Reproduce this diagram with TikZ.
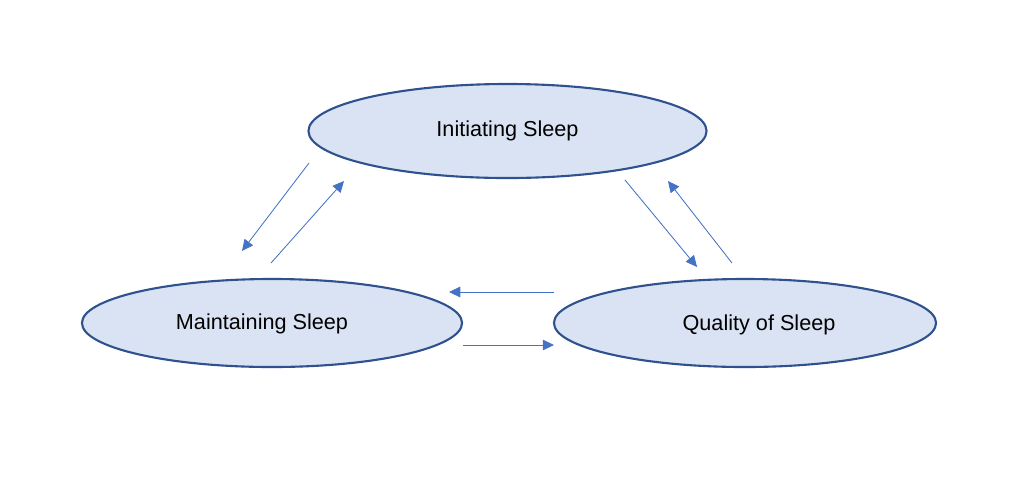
\documentclass[tikz,border=0pt]{standalone}
\usepackage{fontspec}
\setmainfont{Liberation Sans}
\usetikzlibrary{arrows.meta,shapes.geometric}
\definecolor{fillblue}{HTML}{DAE3F3}
\definecolor{edgeblue}{HTML}{2F528F}
\definecolor{arrowblue}{HTML}{4472C4}
\tikzstyle{phase} = [ellipse, draw=edgeblue, fill=fillblue, line width=1.5pt, inner sep=0pt, outer sep=0pt, font=\fontsize{15.4}{18}\selectfont]
\tikzstyle{link} = [draw=arrowblue, line width=0.6pt, -{Triangle[length=8pt,width=7.5pt]}]

\begin{document}
\begin{tikzpicture}[x=0.025cm, y=-0.025cm]
	  \useasboundingbox (0,0) rectangle (1024,476);

	  \node (init) at (507.5,131) [phase, minimum width=9.95cm, minimum height=2.35cm] {Initiating Sleep};
	  \node (maint) at (272,323) [phase, minimum width=9.5cm, minimum height=2.2cm,
	    label={[xshift=-0.25cm, yshift=-0.03cm, font=\fontsize{15.4}{18}\selectfont]center:Maintaining Sleep}] {};
	  \node (qual) at (745,323) [phase, minimum width=9.55cm, minimum height=2.2cm,
	    label={[xshift=0.35cm, yshift=-0.05cm, font=\fontsize{15.4}{18}\selectfont]center:Quality of Sleep}] {};

	  \coordinate (a1) at (309,163);
	  \coordinate (a2) at (242,251);
	  \coordinate (b1) at (271,263);
	  \coordinate (b2) at (344,181);
	  \coordinate (c1) at (625,180);
	  \coordinate (c2) at (697,267);
	  \coordinate (d1) at (732,263);
	  \coordinate (d2) at (668,181);
	  \coordinate (e1) at (554,292);
	  \coordinate (e2) at (449,292);
	  \coordinate (f1) at (463,345);
	  \coordinate (f2) at (554,345);

	  \draw [link] (a1) to (a2);
	  \draw [link] (b1) to (b2);
	  \draw [link] (c1) to (c2);
	  \draw [link] (d1) to (d2);
	  \draw [link] (e1) to (e2);
	  \draw [link] (f1) to (f2);
	\end{tikzpicture}
\end{document}
